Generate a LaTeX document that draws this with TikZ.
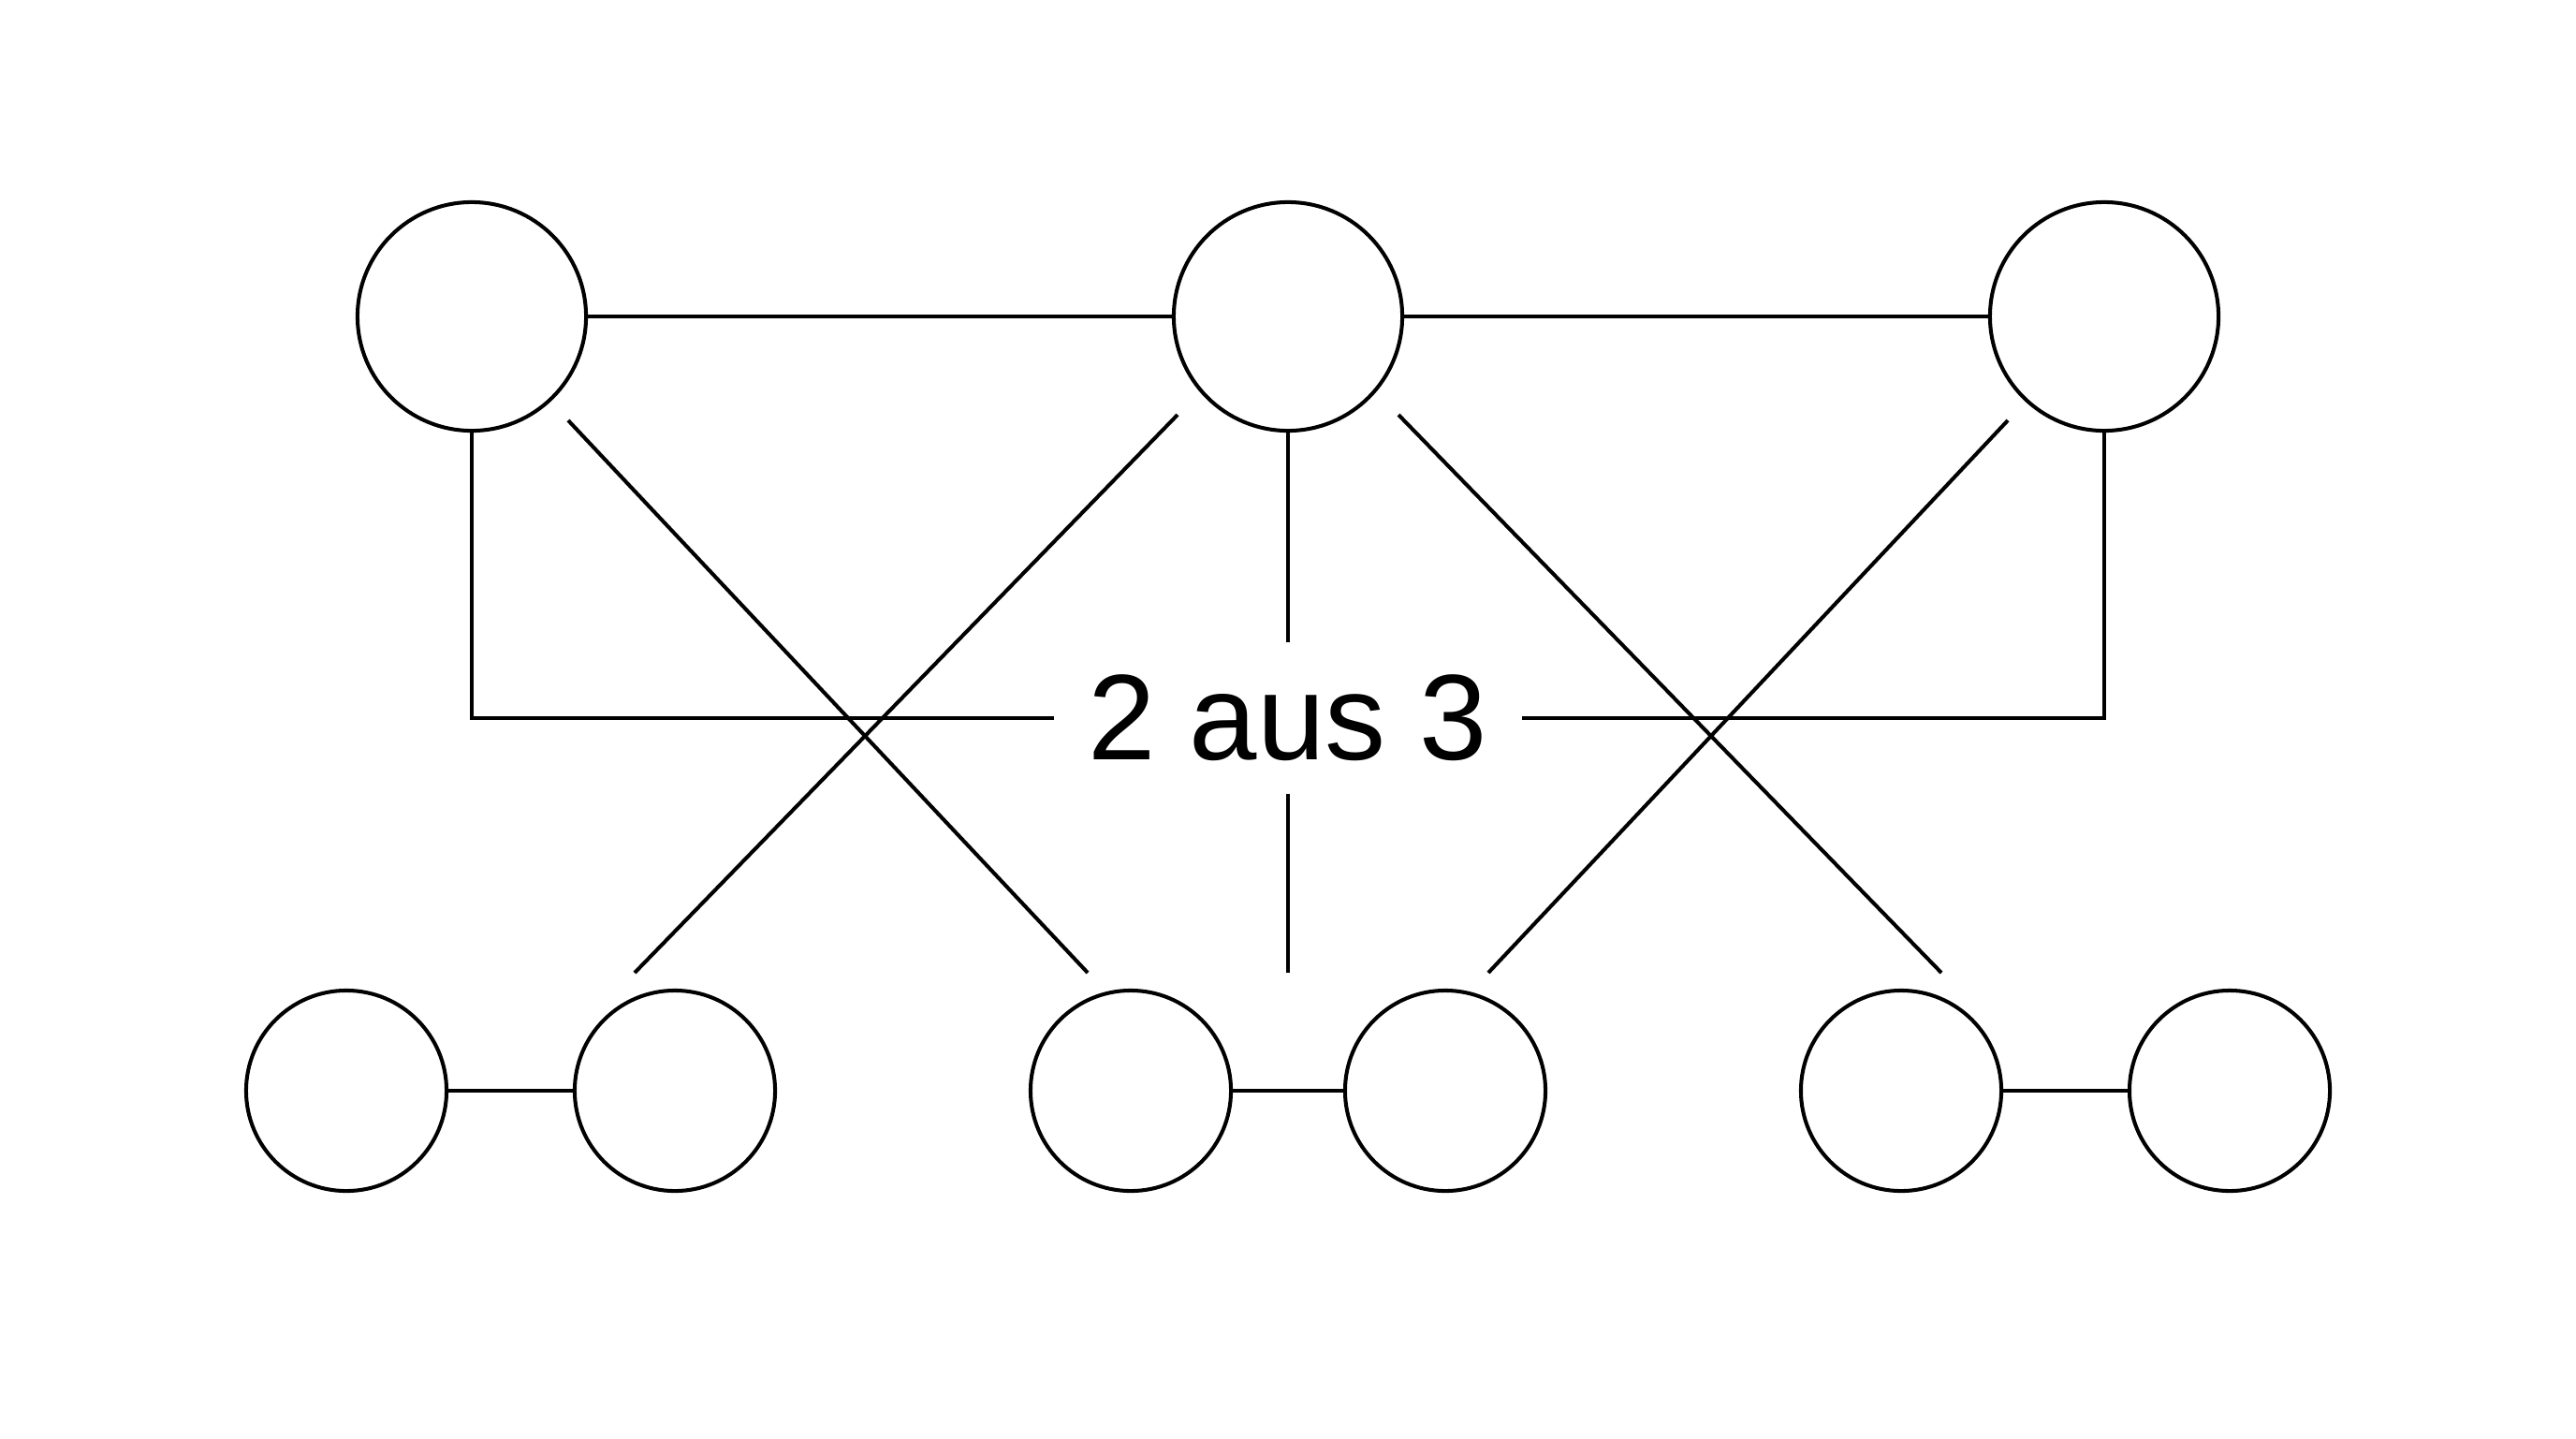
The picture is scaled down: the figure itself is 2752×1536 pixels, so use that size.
\documentclass[tikz,border=0pt]{standalone}
\usepackage{fontspec}
\setsansfont{Liberation Sans}

\begin{document}
\begin{tikzpicture}[
  x=0.01cm,
  y=-0.01cm,
  every node/.style={font=\sffamily},
  unit/.style={draw, circle, line width=1.15pt, inner sep=0pt, minimum size=2.44cm},
  subunit/.style={draw, circle, line width=1.15pt, inner sep=0pt, minimum size=2.14cm},
  link/.style={draw=black, line width=1.15pt},
  vote/.style={inner sep=0pt, minimum width=4.98cm, minimum height=1.6cm,
    font=\sffamily\fontsize{37}{40}\selectfont}
]
  \fill[white] (0,0) rectangle (2752,1536);
  \useasboundingbox (0,0) rectangle (2752,1536);

  % upper row
  \node[unit] (t1) at (504,338) {};
  \node[unit] (t2) at (1376,338) {};
  \node[unit] (t3) at (2248,338) {};

  % lower row
  \node[subunit] (b1) at (370,1165) {};
  \node[subunit] (b2) at (721,1165) {};
  \node[subunit] (b3) at (1208,1165) {};
  \node[subunit] (b4) at (1544,1165) {};
  \node[subunit] (b5) at (2031,1165) {};
  \node[subunit] (b6) at (2382,1165) {};

  \node[vote] (vote) at (1376,767) {2 aus 3};

  \draw[link] (t1) -- (t2);
  \draw[link] (t2) -- (t3);
  \draw[link] (b1) -- (b2);
  \draw[link] (b3) -- (b4);
  \draw[link] (b5) -- (b6);

  \draw[link] (t1.south) |- (vote.west);
  \draw[link] (t3.south) |- (vote.east);
  \draw[link] (t2.south) -- (vote.north);
  \coordinate (mid) at (1376,1039);
  \draw[link] (vote.south) -- (mid);

  % crossing lines
  \coordinate (c1a) at (607,449);
  \coordinate (c1b) at (1162,1039);
  \coordinate (c2a) at (1258,443);
  \coordinate (c2b) at (678,1039);
  \coordinate (c3a) at (1494,443);
  \coordinate (c3b) at (2074,1039);
  \coordinate (c4a) at (2145,449);
  \coordinate (c4b) at (1590,1039);
  \foreach \n in {1,2,3,4} {
    \draw[link] (c\n a) -- (c\n b);
  }
\end{tikzpicture}
\end{document}
